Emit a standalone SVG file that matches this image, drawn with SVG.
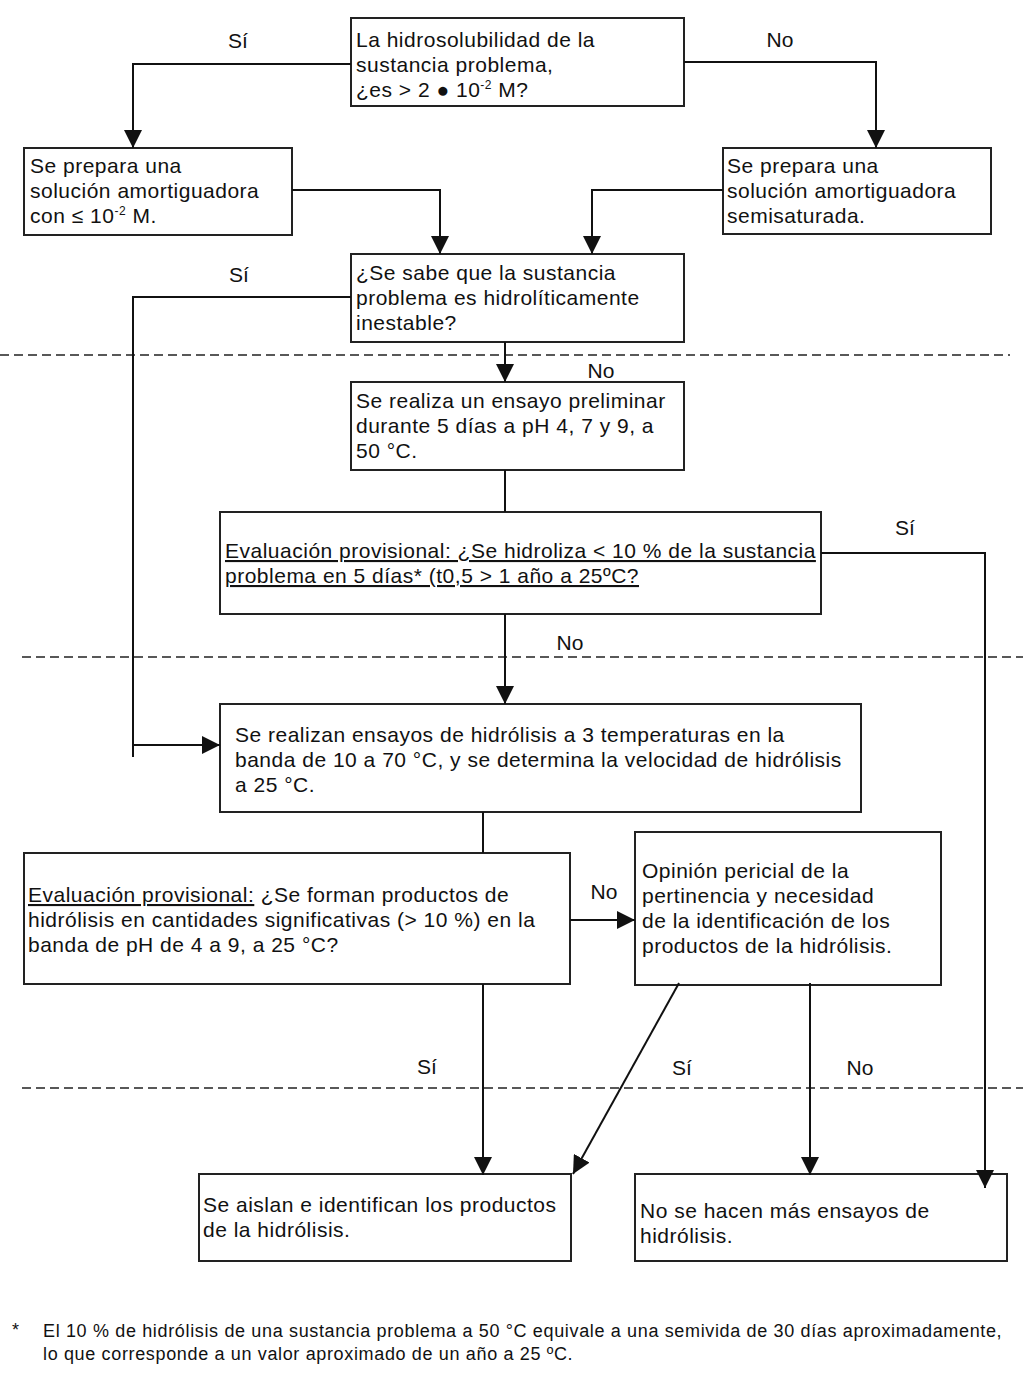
<svg xmlns="http://www.w3.org/2000/svg" width="1023" height="1378" viewBox="0 0 1023 1378">
<defs>
<marker id="arr" markerUnits="userSpaceOnUse" markerWidth="20" markerHeight="18" refX="18" refY="9" orient="auto">
<path d="M0,0 L18,9 L0,18 z" fill="#111"/>
</marker>
<style>
.box{fill:#fff;stroke:#222;stroke-width:2}
.t{font-family:"Liberation Sans",Arial,sans-serif;font-size:21px;letter-spacing:0.5px;fill:#111}
.lbl{font-family:"Liberation Sans",Arial,sans-serif;font-size:21px;fill:#111;text-anchor:middle}
.fn{font-family:"Liberation Sans",Arial,sans-serif;font-size:18px;letter-spacing:0.65px;fill:#111}
.c{fill:none;stroke:#111;stroke-width:2}
.d{fill:none;stroke:#222;stroke-width:1.6;stroke-dasharray:9,5}
</style>
</defs>
<rect width="1023" height="1378" fill="#fff"/>

<g id="separators">
<line class="d" x1="0" y1="355" x2="1010" y2="355"/>
<line class="d" x1="22" y1="657" x2="1023" y2="657"/>
<line class="d" x1="22" y1="1088" x2="1023" y2="1088"/>
</g>

<g id="n1">
<rect class="box" x="351" y="18" width="333" height="88"/>
<text class="t" x="356" y="47">La hidrosolubilidad de la</text>
<text class="t" x="356" y="72">sustancia problema,</text>
<text class="t" x="356" y="97">¿es &gt; 2 ● 10<tspan font-size="12" dy="-8">-2</tspan><tspan dy="8"> M?</tspan></text>
</g>

<g id="n2">
<rect class="box" x="24" y="148" width="268" height="87"/>
<text class="t" x="30" y="173">Se prepara una</text>
<text class="t" x="30" y="198">solución amortiguadora</text>
<text class="t" x="30" y="223">con ≤ 10<tspan font-size="12" dy="-8">-2</tspan><tspan dy="8"> M.</tspan></text>
</g>

<g id="n3">
<rect class="box" x="723" y="148" width="268" height="86"/>
<text class="t" x="727" y="173">Se prepara una</text>
<text class="t" x="727" y="198">solución amortiguadora</text>
<text class="t" x="727" y="223">semisaturada.</text>
</g>

<g id="n4">
<rect class="box" x="351" y="254" width="333" height="88"/>
<text class="t" x="356" y="280">¿Se sabe que la sustancia</text>
<text class="t" x="356" y="305">problema es hidrolíticamente</text>
<text class="t" x="356" y="330">inestable?</text>
</g>

<g id="n5">
<rect class="box" x="351" y="382" width="333" height="88"/>
<text class="t" x="356" y="408">Se realiza un ensayo preliminar</text>
<text class="t" x="356" y="433">durante 5 días a pH 4, 7 y 9, a</text>
<text class="t" x="356" y="458">50 °C.</text>
</g>

<g id="n6">
<rect class="box" x="220" y="512" width="601" height="102"/>
<text class="t" x="225" y="558" text-decoration="underline">Evaluación provisional: ¿Se hidroliza &lt; 10 % de la sustancia</text>
<text class="t" x="225" y="583" text-decoration="underline">problema en 5 días* (t0,5 &gt; 1 año a 25ºC?</text>
</g>

<g id="n7">
<rect class="box" x="220" y="704" width="641" height="108"/>
<text class="t" x="235" y="742">Se realizan ensayos de hidrólisis a 3 temperaturas en la</text>
<text class="t" x="235" y="767">banda de 10 a 70 °C, y se determina la velocidad de hidrólisis</text>
<text class="t" x="235" y="792">a 25 °C.</text>
</g>

<g id="n8">
<rect class="box" x="24" y="853" width="546" height="131"/>
<text class="t" x="28" y="902"><tspan text-decoration="underline">Evaluación provisional:</tspan> ¿Se forman productos de</text>
<text class="t" x="28" y="927">hidrólisis en cantidades significativas (&gt; 10 %) en la</text>
<text class="t" x="28" y="952">banda de pH de 4 a 9, a 25 °C?</text>
</g>

<g id="n9">
<rect class="box" x="635" y="832" width="306" height="153"/>
<text class="t" x="642" y="878">Opinión pericial de la</text>
<text class="t" x="642" y="903">pertinencia y necesidad</text>
<text class="t" x="642" y="928">de la identificación de los</text>
<text class="t" x="642" y="953">productos de la hidrólisis.</text>
</g>

<g id="n10">
<rect class="box" x="199" y="1174" width="372" height="87"/>
<text class="t" x="203" y="1212">Se aislan e identifican los productos</text>
<text class="t" x="203" y="1237">de la hidrólisis.</text>
</g>

<g id="n11">
<rect class="box" x="635" y="1174" width="372" height="87"/>
<text class="t" x="640" y="1218">No se hacen más ensayos de</text>
<text class="t" x="640" y="1243">hidrólisis.</text>
</g>

<g id="connectors">
<polyline class="c" points="351,64 133,64 133,148" marker-end="url(#arr)"/>
<polyline class="c" points="684,62 876,62 876,148" marker-end="url(#arr)"/>
<polyline class="c" points="292,190 440,190 440,254" marker-end="url(#arr)"/>
<polyline class="c" points="723,190 592,190 592,254" marker-end="url(#arr)"/>
<polyline class="c" points="505,342 505,382" marker-end="url(#arr)"/>
<polyline class="c" points="351,297 133,297 133,757"/>
<polyline class="c" points="133,745 220,745" marker-end="url(#arr)"/>
<polyline class="c" points="505,470 505,512"/>
<polyline class="c" points="821,553 985,553 985,1188" marker-end="url(#arr)"/>
<polyline class="c" points="505,614 505,704" marker-end="url(#arr)"/>
<polyline class="c" points="483,812 483,853"/>
<polyline class="c" points="570,920 635,920" marker-end="url(#arr)"/>
<polyline class="c" points="483,984 483,1175" marker-end="url(#arr)"/>
<polyline class="c" points="679,983 573,1174" marker-end="url(#arr)"/>
<polyline class="c" points="810,983 810,1175" marker-end="url(#arr)"/>
<text class="lbl" x="238" y="48">Sí</text>
<text class="lbl" x="780" y="47">No</text>
<text class="lbl" x="239" y="282">Sí</text>
<text class="lbl" x="601" y="378">No</text>
<text class="lbl" x="905" y="535">Sí</text>
<text class="lbl" x="570" y="650">No</text>
<text class="lbl" x="604" y="899">No</text>
<text class="lbl" x="427" y="1074">Sí</text>
<text class="lbl" x="682" y="1075">Sí</text>
<text class="lbl" x="860" y="1075">No</text>
</g>

<g id="footnote">
<text class="fn" x="12" y="1336">*</text>
<text class="fn" x="43" y="1337">El 10 % de hidrólisis de una sustancia problema a 50 °C equivale a una semivida de 30 días aproximadamente,</text>
<text class="fn" x="43" y="1360">lo que corresponde a un valor aproximado de un año a 25 ºC.</text>
</g>
</svg>
